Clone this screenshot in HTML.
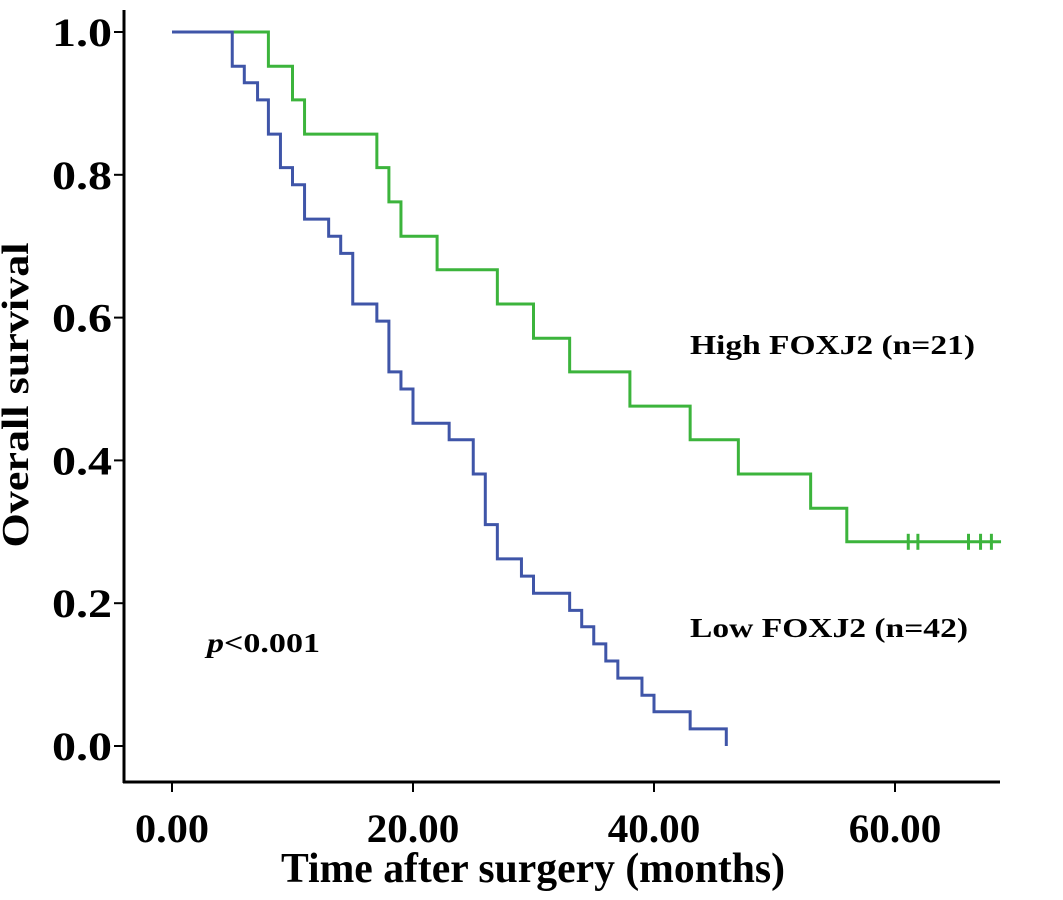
<!DOCTYPE html>
<html><head><meta charset="utf-8"><style>
body{margin:0;background:#fff}
svg{display:block}
text{font-family:"Liberation Serif",serif;font-weight:bold;fill:#000}
</style></head><body>
<svg id="chart" width="1063" height="900" viewBox="0 0 1063 900">
<g id="axes"></g>
<g id="curves"></g>
<text x="28" y="395" font-size="38" text-anchor="middle" transform="rotate(-90 28 395)" textLength="305" lengthAdjust="spacingAndGlyphs">Overall survival</text>
<text x="533" y="882" font-size="42" text-anchor="middle" textLength="504" lengthAdjust="spacingAndGlyphs">Time after surgery (months)</text>
<text x="690" y="354" font-size="27" textLength="285" lengthAdjust="spacingAndGlyphs">High FOXJ2 (n=21)</text>
<text x="690" y="637" font-size="27" textLength="278" lengthAdjust="spacingAndGlyphs">Low FOXJ2 (n=42)</text>
<text x="207" y="652" font-size="27" textLength="113" lengthAdjust="spacingAndGlyphs"><tspan font-style="italic">p</tspan>&lt;0.001</text>
</svg>
<script>
const xTicks=[0,20,40,60];
const xTickLabels=["0.00","20.00","40.00","60.00"];
const yTicks=[0,0.2,0.4,0.6,0.8,1.0];
const yTickLabels=["0.0","0.2","0.4","0.6","0.8","1.0"];
const highTimes=[8,10,11,17,18,19,22,27,30,33,38,43,47,53,56];
const highSurv=[0.952,0.905,0.857,0.810,0.762,0.714,0.667,0.619,0.571,0.524,0.476,0.429,0.381,0.333,0.286];
const highEnd=68.8;
const highCensor=[61.1,61.9,66.1,67.1,68];
const lowTimes=[5,6,7.1,8,9,10,11,13,14,15,17,18,19,20,23,25,26,27,29,30,33,34,35,36,37,39,40,43,46];
const lowSurv=[0.952,0.929,0.905,0.857,0.810,0.786,0.738,0.714,0.690,0.619,0.595,0.524,0.500,0.452,0.429,0.381,0.310,0.262,0.238,0.214,0.190,0.167,0.143,0.119,0.095,0.071,0.048,0.024,0.0];

const NS="http://www.w3.org/2000/svg";
const X=t=>172+t*12.05;
const Y=v=>746-v*714;
function mk(tag,attrs,parent){const e=document.createElementNS(NS,tag);for(const k in attrs)e.setAttribute(k,attrs[k]);parent.appendChild(e);return e;}
const axes=document.getElementById('axes');
const yl=mk('line',{x1:124,y1:10,x2:124,y2:783,stroke:'#000','stroke-width':3},axes);


const xl=mk('line',{x1:123,y1:782,x2:1000,y2:782,stroke:'#000','stroke-width':3},axes);


xTicks.forEach((t,i)=>{
  const tk=mk('line',{x1:X(t),y1:782,x2:X(t),y2:792,stroke:'#000','stroke-width':2},axes);
  
  
  const tx=mk('text',{x:X(t),y:842,'font-size':40,'text-anchor':'middle',textLength:xTickLabels[i].length*18.5,lengthAdjust:'spacingAndGlyphs'},axes);
  tx.textContent=xTickLabels[i];
  
  
});
yTicks.forEach((v,i)=>{
  const tk=mk('line',{x1:114,y1:Y(v),x2:124,y2:Y(v),stroke:'#000','stroke-width':2},axes);
  
  
  const tx=mk('text',{x:112,y:Y(v)+14,'font-size':40,'text-anchor':'end',textLength:60,lengthAdjust:'spacingAndGlyphs'},axes);
  tx.textContent=yTickLabels[i];
  
  
});
const curves=document.getElementById('curves');
function stepPath(times,surv,end){
  let d=`M${X(0)},${Y(1)}`;let prev=1;
  times.forEach((t,i)=>{d+=` H${X(t)} V${Y(surv[i])}`;prev=surv[i];});
  if(end!=null)d+=` H${X(end)}`;
  return d;
}
const hp=mk('path',{d:stepPath(highTimes,highSurv,highEnd),fill:'none',stroke:'#3cb43c','stroke-width':3},curves);


const lp=mk('path',{d:stepPath(lowTimes,lowSurv,null),fill:'none',stroke:'#3f55a8','stroke-width':3},curves);


highCensor.forEach(t=>{
  const c=mk('line',{x1:X(t),y1:Y(highSurv[highSurv.length-1])-8,x2:X(t),y2:Y(highSurv[highSurv.length-1])+8,stroke:'#3cb43c','stroke-width':3},curves);
  
  
});
</script>
</body></html>
